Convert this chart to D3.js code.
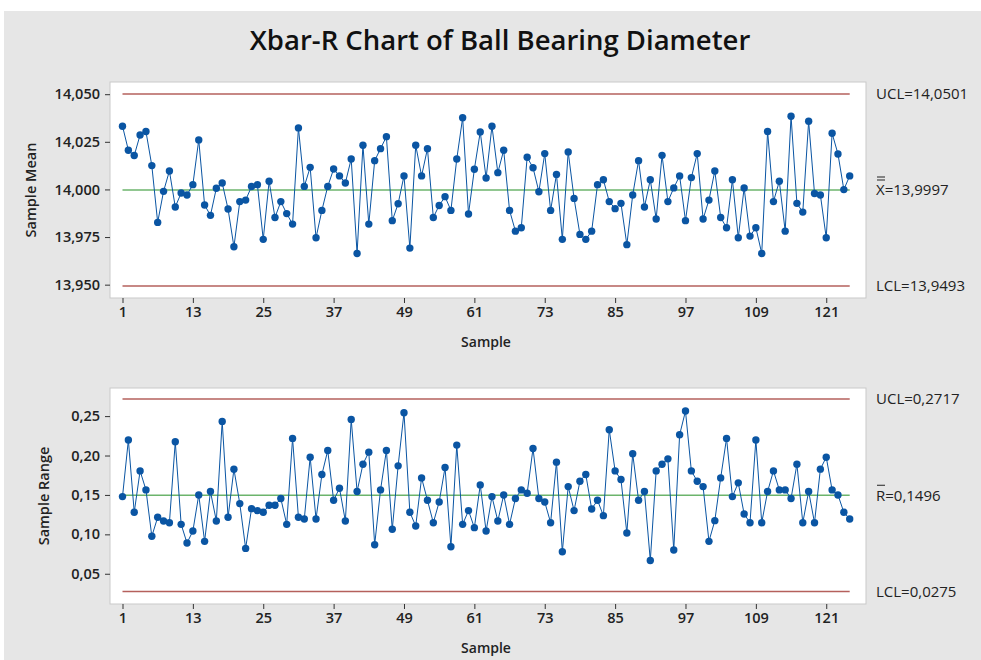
<!DOCTYPE html>
<html><head><meta charset="utf-8">
<script src="https://cdn.jsdelivr.net/npm/d3@7"></script>
<style>body{margin:0;background:#fff}svg{display:block}</style>
</head><body><svg id="c" width="981" height="660"></svg>
<script>
const titleText = "Xbar-R Chart of Ball Bearing Diameter";
const xLabel = "Sample";
const meanLabel = "Sample Mean";
const rangeLabel = "Sample Range";
const xTicks = [1,13,25,37,49,61,73,85,97,109,121];
const meanTicks = [13.950,13.975,14.000,14.025,14.050];
const rangeTicks = [0.05,0.10,0.15,0.20,0.25];
// limits: UCL, center, LCL
const meanLimits = [14.0501, 13.9997, 13.9493];
const rangeLimits = [0.2717, 0.1496, 0.0275];
const sampleMeans = [
14.0332,14.0206,14.0178,14.0286,14.0304,14.0125,13.9827,13.9990,14.0097,13.9908,
13.9981,13.9971,14.0025,14.0260,13.9918,13.9864,14.0006,14.0034,13.9897,13.9699,
13.9936,13.9944,14.0015,14.0025,13.9738,14.0043,13.9853,13.9936,13.9873,13.9818,
14.0323,14.0016,14.0116,13.9746,13.9890,14.0016,14.0107,14.0071,14.0034,14.0160,
13.9664,14.0232,13.9818,14.0151,14.0214,14.0277,13.9836,13.9925,14.0071,13.9692,
14.0232,14.0071,14.0214,13.9853,13.9916,13.9962,13.9890,14.0160,14.0376,13.9871,
14.0106,14.0302,14.0060,14.0332,14.0088,14.0206,13.9890,13.9781,13.9799,14.0169,
14.0114,13.9988,14.0188,13.9890,14.0079,13.9738,14.0197,13.9953,13.9764,13.9738,
13.9781,14.0025,14.0051,13.9936,13.9899,13.9927,13.9710,13.9971,14.0151,13.9908,
14.0051,13.9845,14.0179,13.9936,14.0008,14.0071,13.9836,14.0062,14.0188,13.9845,
13.9944,14.0097,13.9853,13.9799,14.0051,13.9746,14.0008,13.9755,13.9799,13.9664,
14.0304,13.9936,14.0043,13.9781,14.0384,13.9927,13.9881,14.0358,13.9979,13.9971,
13.9746,14.0295,14.0186,13.9999,14.0071];
const sampleRanges = [
0.1479,0.2196,0.1280,0.1805,0.1564,0.0975,0.1216,0.1170,0.1148,0.2174,
0.1127,0.0890,0.1042,0.1500,0.0911,0.1543,0.1170,0.2433,0.1216,0.1827,
0.1390,0.0822,0.1326,0.1301,0.1280,0.1369,0.1369,0.1454,0.1127,0.2217,
0.1216,0.1195,0.1979,0.1195,0.1759,0.2064,0.1432,0.1585,0.1170,0.2458,
0.1543,0.1890,0.2043,0.0869,0.1564,0.2064,0.1064,0.1869,0.2543,0.1280,
0.1106,0.1716,0.1432,0.1148,0.1411,0.1848,0.0843,0.2132,0.1127,0.1301,
0.1085,0.1627,0.1042,0.1479,0.1170,0.1500,0.1127,0.1454,0.1564,0.1521,
0.2090,0.1454,0.1411,0.1148,0.1916,0.0779,0.1606,0.1301,0.1674,0.1759,
0.1322,0.1432,0.1237,0.2327,0.1805,0.1695,0.1017,0.2022,0.1432,0.1543,
0.0669,0.1805,0.1890,0.1958,0.0801,0.2263,0.2564,0.1805,0.1674,0.1606,
0.0911,0.1174,0.1716,0.2217,0.1479,0.1653,0.1259,0.1148,0.2196,0.1148,
0.1543,0.1805,0.1564,0.1564,0.1454,0.1890,0.1148,0.1543,0.1148,0.1827,
0.1979,0.1564,0.1500,0.1280,0.1195];

const FONT = "'Open Sans','Noto Sans',sans-serif";
const loc = d3.formatLocale({decimal:",", thousands:".", grouping:[3], currency:["",""]});
const BLUE = "#0a55a3", RED = "#b5605c", GREEN = "#6cb46c";

const svg = d3.select("#c");
svg.append("rect").attr("x",4).attr("y",11).attr("width",977).attr("height",649).attr("fill","#e6e6e6");
svg.append("text").attr("x",500).attr("y",50).attr("text-anchor","middle")
  .attr("font-family",FONT).attr("font-size",27.5).attr("font-weight",600).attr("fill","#111").text(titleText);

const x = d3.scaleLinear().domain([1, sampleMeans.length]).range([122.5, 849.7]);

function panel(cfg){
  const g = svg.append("g");
  const y = d3.scaleLinear().domain([cfg.limits[2], cfg.limits[0]]).range([cfg.yLcl, cfg.yUcl]);
  g.append("rect").attr("x",110).attr("y",cfg.top).attr("width",756).attr("height",cfg.bottom-cfg.top)
    .attr("fill","#fff").attr("stroke","#c9c9c9").attr("stroke-width",1);
  // y axis
  const ya = g.append("g").attr("transform","translate(110,0)")
    .call(d3.axisLeft(y).tickValues(cfg.ticks).tickSize(5).tickPadding(5).tickFormat(loc.format(cfg.fmt)));
  ya.select(".domain").remove();
  ya.selectAll("line").attr("stroke","#333");
  ya.selectAll("text").attr("font-family",FONT).attr("font-size",14.5).attr("font-weight",600).attr("fill","#222");
  // x axis
  const xa = g.append("g").attr("transform",`translate(0,${cfg.bottom})`)
    .call(d3.axisBottom(x).tickValues(xTicks).tickSize(5).tickPadding(4).tickFormat(d3.format("d")));
  xa.select(".domain").remove();
  xa.selectAll("line").attr("stroke","#333");
  xa.selectAll("text").attr("font-family",FONT).attr("font-size",14.5).attr("font-weight",600).attr("fill","#222");
  g.append("text").attr("x",486).attr("y",cfg.bottom+49).attr("text-anchor","middle")
    .attr("font-family",FONT).attr("font-size",14).attr("font-weight",600).attr("fill","#222").text(xLabel);
  g.append("text").attr("transform",`translate(${cfg.ylabX},${(cfg.top+cfg.bottom)/2}) rotate(-90)`)
    .attr("text-anchor","middle").attr("font-family",FONT).attr("font-size",14.5).attr("font-weight",600)
    .attr("fill","#222").text(cfg.ylab);
  // limit lines
  const x0 = x(1), x1 = x(sampleMeans.length);
  cfg.limits.forEach((v,i)=>{
    g.append("line").attr("x1",x0).attr("x2",x1).attr("y1",y(v)).attr("y2",y(v))
      .attr("stroke", i===1?GREEN:RED).attr("stroke-width",1.3);
  });
  // series
  g.append("path").datum(cfg.data).attr("fill","none").attr("stroke",BLUE).attr("stroke-width",1)
    .attr("d", d3.line().x((d,i)=>x(i+1)).y(d=>y(d)));
  g.selectAll("circle.pt").data(cfg.data).join("circle").attr("class","pt")
    .attr("cx",(d,i)=>x(i+1)).attr("cy",d=>y(d)).attr("r",3.7).attr("fill",BLUE);
  // right labels
  const lf = loc.format(".4f");
  const lab = (yy, txt) => g.append("text").attr("x",876).attr("y",yy).attr("dy","0.35em")
      .attr("font-family",FONT).attr("font-size",15).attr("fill","#222").text(txt);
  lab(y(cfg.limits[0]), "UCL=" + lf(cfg.limits[0]));
  lab(y(cfg.limits[1]), cfg.centerName + "=" + lf(cfg.limits[1]));
  lab(y(cfg.limits[2]), "LCL=" + lf(cfg.limits[2]));
  // overbars on center symbol
  const cy = y(cfg.limits[1]);
  for(let b=0;b<cfg.bars;b++){
    g.append("line").attr("x1",877).attr("x2",885).attr("y1",cy-10-b*3).attr("y2",cy-10-b*3)
      .attr("stroke","#222").attr("stroke-width",1);
  }
}

panel({top:82, bottom:298, yUcl:94, yLcl:286, limits:meanLimits, ticks:meanTicks, fmt:".3f",
  data:sampleMeans, ylab:meanLabel, ylabX:36, centerName:"X", bars:2});
panel({top:388, bottom:604, yUcl:399, yLcl:591.5, limits:rangeLimits, ticks:rangeTicks, fmt:".2f",
  data:sampleRanges, ylab:rangeLabel, ylabX:49, centerName:"R", bars:1});
</script></body></html>
